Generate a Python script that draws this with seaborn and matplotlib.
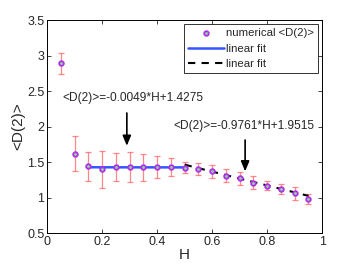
import numpy as np
import pandas as pd
import matplotlib
matplotlib.use("Agg")
import matplotlib.pyplot as plt
import seaborn as sns

# data
H = [0.05, 0.10, 0.15, 0.20, 0.25, 0.30, 0.35, 0.40, 0.45, 0.50,
     0.55, 0.60, 0.65, 0.70, 0.75, 0.80, 0.85, 0.90, 0.95]
D2 = [2.89, 1.62, 1.44, 1.40, 1.43, 1.43, 1.43, 1.43, 1.43, 1.42,
      1.40, 1.37, 1.31, 1.27, 1.21, 1.17, 1.12, 1.06, 0.98]
D2_err = [0.15, 0.25, 0.20, 0.26, 0.20, 0.21, 0.19, 0.15, 0.13, 0.08,
          0.08, 0.09, 0.09, 0.09, 0.09, 0.07, 0.07, 0.09, 0.07]

fit1_H = [0.15, 0.50]
fit1_slope, fit1_icpt = -0.0049, 1.4275
fit2_H = [0.50, 0.95]
fit2_slope, fit2_icpt = -0.9761, 1.9515

sns.set_style("white")
plt.rcParams['font.family'] = ['Liberation Sans', 'DejaVu Sans']

df = pd.DataFrame({"H": H, "D2": D2, "err": D2_err})
fit1 = pd.DataFrame({"H": fit1_H})
fit1["D2"] = fit1_slope * fit1["H"] + fit1_icpt
fit2 = pd.DataFrame({"H": fit2_H})
fit2["D2"] = fit2_slope * fit2["H"] + fit2_icpt

fig, ax = plt.subplots(figsize=(3.54, 2.67), dpi=100)
fig.subplots_adjust(left=0.133, right=0.91, top=0.925, bottom=0.127)

ax.errorbar(df["H"], df["D2"], yerr=df["err"], fmt="none",
            ecolor="#ff6b6b", alpha=0.8, elinewidth=0.9, capsize=2.5, capthick=0.9, zorder=1)
sns.lineplot(data=fit1, x="H", y="D2", ax=ax, color="#3355ff", linewidth=1.8,
             label="linear fit", zorder=2)
sns.lineplot(data=fit2, x="H", y="D2", ax=ax, color="black", linewidth=1.5,
             linestyle=(0, (3.5, 3)), label="linear fit", zorder=2)
sns.scatterplot(data=df, x="H", y="D2", ax=ax, s=11, marker="o",
                facecolor="#88dd88", edgecolor="#b030f0", linewidth=1.3,
                label="numerical <D(2)>", zorder=3)

ax.set_xlim(0, 1)
ax.set_ylim(0.5, 3.5)
ax.set_xticks([0, 0.2, 0.4, 0.6, 0.8, 1])
ax.set_xticklabels(["0", "0.2", "0.4", "0.6", "0.8", "1"])
ax.set_yticks([0.5, 1, 1.5, 2, 2.5, 3, 3.5])
ax.set_yticklabels(["0.5", "1", "1.5", "2", "2.5", "3", "3.5"])
ax.tick_params(direction="in", length=3, width=0.6, labelsize=9, pad=2,
               top=True, right=True, bottom=True, left=True)
for sp in ax.spines.values():
    sp.set_linewidth(0.7)
    sp.set_color("black")
ax.set_xlabel("H", fontsize=11, labelpad=0)
ax.set_ylabel("<D(2)>", fontsize=11, labelpad=1)

# annotations with arrows
ax.text(0.313, 2.40, "<D(2)>=-0.0049*H+1.4275", fontsize=8.6, ha="center", va="center")
ax.annotate("", xy=(0.29, 1.69), xytext=(0.29, 2.23),
            arrowprops=dict(arrowstyle="-|>,head_width=0.25,head_length=0.6", color="black", lw=1.2))
ax.text(0.716, 2.01, "<D(2)>=-0.9761*H+1.9515", fontsize=8.6, ha="center", va="center")
ax.annotate("", xy=(0.72, 1.33), xytext=(0.72, 1.85),
            arrowprops=dict(arrowstyle="-|>,head_width=0.25,head_length=0.6", color="black", lw=1.2))

# legend: points first, then the two fits
handles, labels = ax.get_legend_handles_labels()
order = [2, 0, 1]
leg = ax.legend([handles[i] for i in order], [labels[i] for i in order],
                loc="upper right", fontsize=8.2, frameon=True, fancybox=False,
                edgecolor="black", borderpad=0.35, handlelength=3.2, handletextpad=0.2,
                labelspacing=0.5, borderaxespad=0.35, markerscale=1.0)
leg.get_frame().set_linewidth(0.7)

plt.savefig("out.png", dpi=100)
